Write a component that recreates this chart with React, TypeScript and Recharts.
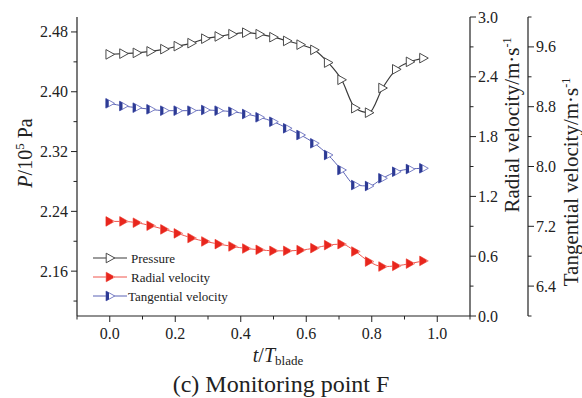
import React from "react";
import { LineChart, Line, XAxis, YAxis } from "recharts";

const timeValues = [0, 0.042, 0.083, 0.125, 0.167, 0.208, 0.25, 0.292, 0.333, 0.375, 0.417, 0.458, 0.5, 0.542, 0.583, 0.625, 0.667, 0.708, 0.75, 0.792, 0.833, 0.875, 0.917, 0.958];
const pressureValues = [2.450, 2.451, 2.452, 2.454, 2.457, 2.461, 2.465, 2.471, 2.474, 2.477, 2.479, 2.477, 2.473, 2.468, 2.463, 2.456, 2.439, 2.416, 2.378, 2.372, 2.405, 2.430, 2.440, 2.445];
const radialValues = [0.949, 0.949, 0.936, 0.906, 0.869, 0.829, 0.782, 0.748, 0.721, 0.698, 0.677, 0.664, 0.654, 0.654, 0.661, 0.681, 0.711, 0.721, 0.647, 0.546, 0.496, 0.503, 0.526, 0.553];
const tangentialValues = [8.845, 8.809, 8.787, 8.765, 8.747, 8.747, 8.747, 8.756, 8.747, 8.733, 8.702, 8.658, 8.599, 8.511, 8.421, 8.310, 8.154, 7.953, 7.752, 7.739, 7.842, 7.930, 7.966, 7.976];

const xTicks = [-0.1, 0, 0.1, 0.2, 0.3, 0.4, 0.5, 0.6, 0.7, 0.8, 0.9, 1.0, 1.1];
const xMajor = [0, 0.2, 0.4, 0.6, 0.8, 1.0];
const pTicks = [2.12, 2.16, 2.2, 2.24, 2.28, 2.32, 2.36, 2.4, 2.44, 2.48];
const pMajor = [2.16, 2.24, 2.32, 2.4, 2.48];
const rTicks = [0, 0.3, 0.6, 0.9, 1.2, 1.5, 1.8, 2.1, 2.4, 2.7, 3.0];
const rMajor = [0, 0.6, 1.2, 1.8, 2.4, 3.0];
const tTicks = [6.0, 6.4, 6.8, 7.2, 7.6, 8.0, 8.4, 8.8, 9.2, 9.6, 10.0];
const tMajor = [6.4, 7.2, 8.0, 8.8, 9.6];

const seriesNames = ["Pressure", "Radial velocity", "Tangential velocity"];

const data = timeValues.map((t, i) => ({
  t,
  p: pressureValues[i],
  r: radialValues[i],
  v: tangentialValues[i],
}));

const FONT = '"Liberation Serif", "Times New Roman", serif';
const AXIS = "#222";

const isIn = (arr: number[], v: number) => arr.some((m) => Math.abs(m - v) < 1e-6);

const makeTick = (orient: string, majors: number[], digits: number) => (props: any) => {
  const { x, y, payload } = props;
  const v = payload.value as number;
  const major = isIn(majors, v);
  const len = major ? 6 : 3.5;
  const label = v.toFixed(digits);
  if (orient === "bottom") {
    return (
      <g>
        <line x1={x} y1={y} x2={x} y2={y + len} stroke={AXIS} strokeWidth={1} />
        {major && (
          <text x={x} y={y + 23} textAnchor="middle" fontSize={16} fontFamily={FONT} fill="#222">{label}</text>
        )}
      </g>
    );
  }
  if (orient === "left") {
    return (
      <g>
        <line x1={x} y1={y} x2={x - len} y2={y} stroke={AXIS} strokeWidth={1} />
        {major && (
          <text x={x - 9} y={y + 5.5} textAnchor="end" fontSize={16} fontFamily={FONT} fill="#222">{label}</text>
        )}
      </g>
    );
  }
  return (
    <g>
      <line x1={x} y1={y} x2={x + len} y2={y} stroke={AXIS} strokeWidth={1} />
      {major && (
        <text x={x + 8} y={y + 5.5} textAnchor="start" fontSize={16} fontFamily={FONT} fill="#222">{label}</text>
      )}
    </g>
  );
};

const triPath = (cx: number, cy: number) =>
  `M${cx - 3.8},${cy - 4.8} L${cx + 4.8},${cy} L${cx - 3.8},${cy + 4.8} Z`;

const PressureMark = ({ cx, cy }: any) => (
  <path d={triPath(cx, cy)} fill="#fff" stroke="#4a4a4a" strokeWidth={1} />
);
const RadialMark = ({ cx, cy }: any) => (
  <g>
    <path d={triPath(cx, cy)} fill="#fbd2cd" stroke="#f4837a" strokeWidth={1} />
    <path d={`M${cx - 3.8},${cy - 4.8} L${cx + 3},${cy - 0.9} L${cx + 3},${cy + 0.9} L${cx - 3.8},${cy + 4.8} Z`} fill="#e8261d" />
  </g>
);
const TangentialMark = ({ cx, cy }: any) => (
  <g>
    <path d={triPath(cx, cy)} fill="#fff" stroke="#7a80c6" strokeWidth={1} />
    <path d={`M${cx - 4.1},${cy - 5} L${cx - 1},${cy - 3.2} L${cx - 1},${cy + 3.2} L${cx - 4.1},${cy + 5} Z`} fill="#2c3a94" />
  </g>
);

const dotFn = (Comp: any) => (props: any) => <Comp key={`d-${props.index}`} cx={props.cx} cy={props.cy} />;

const colors = { p: "#3a3a3a", r: "#f0544c", v: "#5b63b5" };

export default function App() {
  const W = 582;
  const H = 398;
  return (
    <div style={{ position: "absolute", left: 0, top: 0, width: W, height: H, background: "#fff" }}>
      <LineChart width={W} height={H} data={data} margin={{ top: 17, right: 0, bottom: 52, left: 0 }}>
        <XAxis
          dataKey="t"
          type="number"
          domain={[-0.1, 1.1]}
          ticks={xTicks}
          interval={0}
          height={30}
          tickSize={0}
          tickMargin={0}
          tickLine={false}
          axisLine={{ stroke: AXIS, strokeWidth: 1.2 }}
          tick={makeTick("bottom", xMajor, 1)}
          allowDataOverflow
        />
        <XAxis
          xAxisId="top"
          orientation="top"
          dataKey="t"
          type="number"
          domain={[-0.1, 1.1]}
          height={0}
          tick={false}
          tickLine={false}
          axisLine={{ stroke: AXIS, strokeWidth: 1.2 }}
        />
        <YAxis
          yAxisId="p"
          orientation="left"
          type="number"
          domain={[2.1, 2.5]}
          ticks={pTicks}
          interval={0}
          width={77}
          tickSize={0}
          tickMargin={0}
          tickLine={false}
          axisLine={{ stroke: AXIS, strokeWidth: 1.2 }}
          tick={makeTick("left", pMajor, 2)}
          allowDataOverflow
        />
        <YAxis
          yAxisId="r"
          orientation="right"
          type="number"
          domain={[0, 3]}
          ticks={rTicks}
          interval={0}
          width={58}
          tickSize={0}
          tickMargin={0}
          tickLine={false}
          axisLine={{ stroke: AXIS, strokeWidth: 1.2 }}
          tick={makeTick("right", rMajor, 1)}
          allowDataOverflow
        />
        <YAxis
          yAxisId="v"
          orientation="right"
          type="number"
          domain={[6, 10]}
          ticks={tTicks}
          interval={0}
          width={54}
          tickSize={0}
          tickMargin={0}
          tickLine={false}
          axisLine={{ stroke: AXIS, strokeWidth: 1.2 }}
          tick={makeTick("right", tMajor, 1)}
          allowDataOverflow
        />
        <Line yAxisId="p" dataKey="p" name={seriesNames[0]} type="monotone" stroke={colors.p} strokeWidth={1.2} dot={dotFn(PressureMark)} activeDot={false} isAnimationActive={false} />
        <Line yAxisId="r" dataKey="r" name={seriesNames[1]} type="monotone" stroke={colors.r} strokeWidth={1} dot={dotFn(RadialMark)} activeDot={false} isAnimationActive={false} />
        <Line yAxisId="v" dataKey="v" name={seriesNames[2]} type="monotone" stroke={colors.v} strokeWidth={1} dot={dotFn(TangentialMark)} activeDot={false} isAnimationActive={false} />
      </LineChart>
      <svg width={W} height={H} style={{ position: "absolute", left: 0, top: 0, pointerEvents: "none" }}>
        <text transform="rotate(-90, 32, 153)" x={32} y={153} textAnchor="middle" fontSize={20} fontFamily={FONT} fill="#222">
          <tspan fontStyle="italic">P</tspan>
          <tspan>/10</tspan>
          <tspan fontSize={13} dy={-8}>5</tspan>
          <tspan dy={8}> Pa</tspan>
        </text>
        <text transform="rotate(-90, 519, 125)" x={519} y={125} textAnchor="middle" fontSize={21} fontFamily={FONT} fill="#222">
          <tspan>Radial velocity/m·s</tspan>
          <tspan fontSize={12} dy={-8}>-1</tspan>
        </text>
        <text transform="rotate(-90, 578, 182)" x={578} y={182} textAnchor="middle" fontSize={21} fontFamily={FONT} fill="#222">
          <tspan>Tangential velocity/m·s</tspan>
          <tspan fontSize={12} dy={-8}>-1</tspan>
        </text>
        <text x={278} y={362} textAnchor="middle" fontSize={20} fontFamily={FONT} fill="#222">
          <tspan fontStyle="italic">t</tspan>
          <tspan>/</tspan>
          <tspan fontStyle="italic">T</tspan>
          <tspan fontSize={13} dy={3}>blade</tspan>
        </text>
        <text x={281} y={392} textAnchor="middle" fontSize={24} fontFamily={FONT} fill="#222">(c) Monitoring point F</text>
        <g>
          <line x1={93} y1={258} x2={127} y2={258} stroke={colors.p} strokeWidth={1.2} />
          <PressureMark cx={110} cy={258} />
          <text x={131} y={263} fontSize={13} fontFamily={FONT} fill="#222">{seriesNames[0]}</text>
          <line x1={93} y1={277} x2={127} y2={277} stroke={colors.r} strokeWidth={1} />
          <RadialMark cx={110} cy={277} />
          <text x={131} y={282} fontSize={13} fontFamily={FONT} fill="#222">{seriesNames[1]}</text>
          <line x1={93} y1={296} x2={127} y2={296} stroke={colors.v} strokeWidth={1} />
          <TangentialMark cx={110} cy={296} />
          <text x={128} y={301} fontSize={13} fontFamily={FONT} fill="#222">{seriesNames[2]}</text>
        </g>
      </svg>
    </div>
  );
}
